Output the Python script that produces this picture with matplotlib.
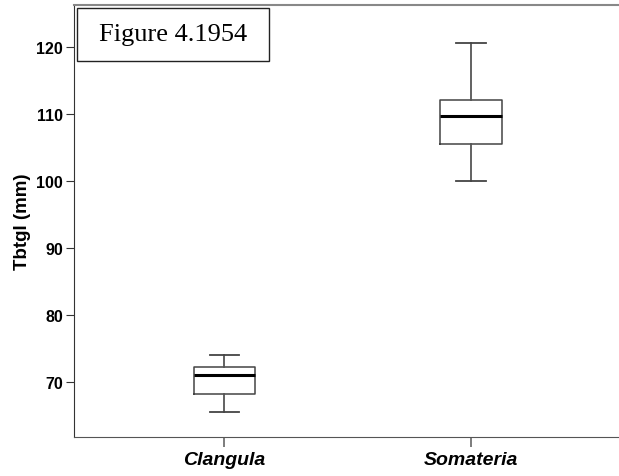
import matplotlib.pyplot as plt
from matplotlib.patches import Rectangle

# species and box summaries (mm)
species = ['Clangula', 'Somateria']
whisker_low = [65.5, 100.0]
q1 = [68.2, 105.6]
median = [71.0, 109.8]
q3 = [72.2, 112.1]
whisker_high = [74.1, 120.6]

yticks = [70, 80, 90, 100, 110, 120]

plt.rcParams['font.family'] = 'Liberation Sans'

fig = plt.figure(figsize=(6.19, 4.77), dpi=100)
ax = fig.add_axes([0.1196, 0.0818, 0.8804, 0.9056])

stats = []
for i, name in enumerate(species):
    stats.append({'label': name, 'whislo': whisker_low[i], 'q1': q1[i], 'med': median[i],
                  'q3': q3[i], 'whishi': whisker_high[i], 'fliers': []})

ax.bxp(stats, positions=[1, 2], widths=0.25, capwidths=0.12, showfliers=False,
       boxprops=dict(color='#444444', linewidth=1.1),
       whiskerprops=dict(color='#555555', linewidth=1.3),
       capprops=dict(color='#444444', linewidth=1.3),
       medianprops=dict(color='black', linewidth=2.2))

ax.set_xlim(0.39, 2.6)
ax.set_ylim(61.8, 126.3)
ax.set_yticks(yticks)
ax.set_yticklabels([str(t) for t in yticks], fontsize=11.5, fontweight='bold')
ax.set_xticks([1, 2])
ax.set_xticklabels(species, fontsize=14, fontweight='bold', style='italic')
ax.set_ylabel('Tbtgl (mm)', fontsize=13.5, fontweight='bold', labelpad=4)

ax.spines['right'].set_visible(False)
ax.spines['top'].set_color('#888888')
ax.spines['top'].set_linewidth(1.5)
ax.spines['left'].set_color('#333333')
ax.spines['bottom'].set_color('#555555')
ax.tick_params(axis='y', length=6, color='#333333', pad=2)
ax.tick_params(axis='x', length=7, color='#666666', width=1.2, pad=3)

# label box in the top-left corner
ax.add_patch(Rectangle((0.0055, 0.870), 0.352, 0.123, transform=ax.transAxes,
                       facecolor='white', edgecolor='#222222', linewidth=1.0, zorder=5))
ax.text(0.1817, 0.932, 'Figure 4.1954', transform=ax.transAxes, ha='center', va='center',
        fontsize=19, family='Liberation Serif', zorder=6)

fig.savefig('out.png', dpi=100)
